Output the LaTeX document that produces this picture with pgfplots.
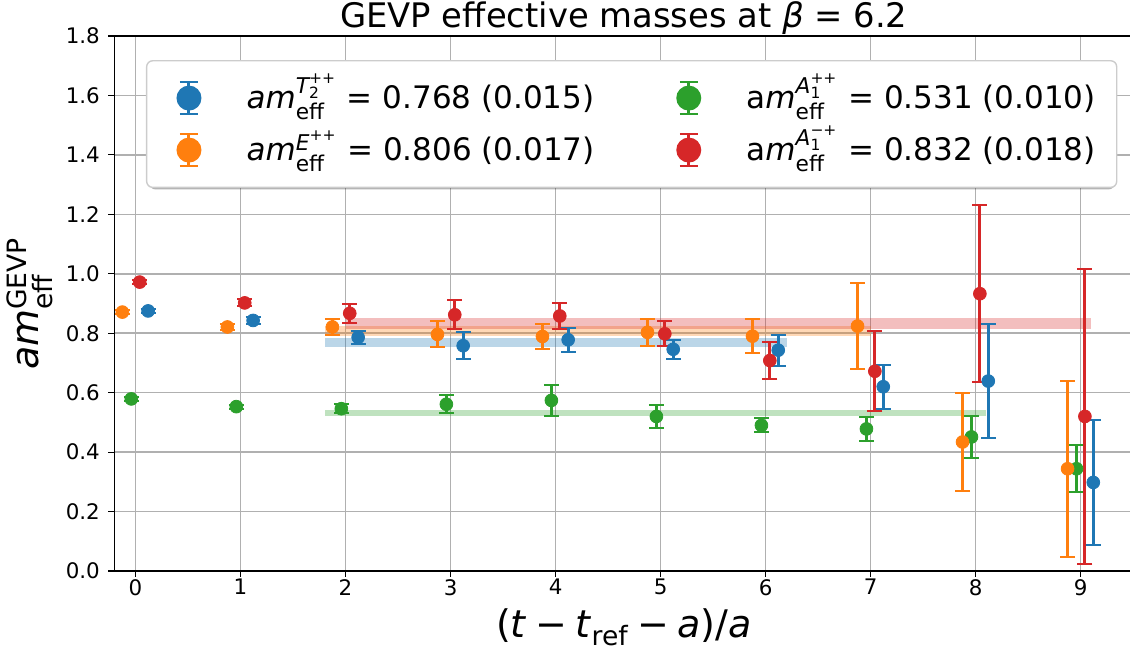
\documentclass[border=0pt]{standalone}
\usepackage{fontspec}
\setmainfont{DejaVu Sans}
\usepackage{amsmath}
\usepackage{pgfplots}
\usepackage{pgfplotstable}
\pgfplotsset{compat=1.18}

\definecolor{c0}{HTML}{1F77B4}
\definecolor{c1}{HTML}{FF7F0E}
\definecolor{c2}{HTML}{2CA02C}
\definecolor{c3}{HTML}{D62728}
\definecolor{gridc}{HTML}{B0B0B0}
\definecolor{legc}{HTML}{CCCCCC}

% columns: x (t plus offset), effective mass, error
\pgfplotstableread{
x y e
0.12 0.875 0.008
1.12 0.843 0.012
2.12 0.786 0.022
3.12 0.758 0.045
4.12 0.778 0.040
5.12 0.746 0.032
6.12 0.743 0.052
7.12 0.620 0.074
8.12 0.639 0.192
9.12 0.298 0.209
}\tbluedata

\pgfplotstableread{
x y e
-0.125 0.871 0.007
0.875 0.821 0.009
1.875 0.821 0.026
2.875 0.796 0.044
3.875 0.789 0.041
4.875 0.803 0.046
5.875 0.790 0.058
6.875 0.824 0.144
7.875 0.434 0.165
8.875 0.344 0.296
}\eorangedata

\pgfplotstableread{
x y e
-0.04 0.579 0.007
0.96 0.553 0.007
1.96 0.546 0.016
2.96 0.561 0.031
3.96 0.574 0.052
4.96 0.520 0.038
5.96 0.490 0.024
6.96 0.478 0.040
7.96 0.451 0.071
8.96 0.344 0.079
}\agreendata

\pgfplotstableread{
x y e
0.04 0.972 0.008
1.04 0.902 0.012
2.04 0.867 0.031
3.04 0.862 0.049
4.04 0.858 0.044
5.04 0.798 0.042
6.04 0.708 0.063
7.04 0.672 0.135
8.04 0.933 0.298
9.04 0.520 0.496
}\aredddata

\pgfplotsset{
  ebar/.style={only marks, mark=*, mark size=3.2pt, mark options={draw=none, fill=#1}, color=#1,
    error bars/.cd, y dir=both, y explicit,
    error bar style={line width=1.5pt, color=#1},
    error mark options={rotate=90, mark size=3.75pt, line width=1pt, color=#1}},
  legimg/.style={legend image code/.code={
    \draw[#1, fill=none, line width=1.5pt] (0pt,-8pt) -- (0pt,8pt);
    \draw[#1, fill=none, line width=1pt] (-4.5pt,-8pt) -- (4.5pt,-8pt) (-4.5pt,8pt) -- (4.5pt,8pt);
    \fill[#1, draw=none] (0pt,0pt) circle (6.25pt);
    \path[draw=none, fill=none] (-10.65pt,-13pt) rectangle (28.85pt,13pt);
  }},
  band/.style={fill=#1, fill opacity=0.3, draw=none, forget plot},
}

\begin{document}
\begin{tikzpicture}
\begin{axis}[
  at={(0,0)}, anchor=south west,
  scale only axis, width=509.35pt, height=267.5pt,
  xmin=-0.2, xmax=9.5, ymin=0, ymax=1.8,
  xtick={0,1,2,3,4,5,6,7,8,9},
  ytick={0,0.2,0.4,0.6,0.8,1.0,1.2,1.4,1.6,1.8},
  tick pos=left, tick align=outside,
  major tick length=3pt,
  tick style={black, line width=0.6pt},
  axis line style={black, line width=0.6pt},
  grid=major,
  major grid style={color=gridc, line width=0.75pt},
  ticklabel style={font=\fontsize{10.7}{12}\selectfont},
  /pgf/number format/assume math mode=true,
  xticklabel style={inner sep=0pt, yshift=-1pt},
  yticklabel style={inner sep=0pt, xshift=-4.15pt, /pgf/number format/.cd, fixed, fixed zerofill, precision=1},
  every axis title/.style={at={(axis description cs:0.5,1)}, anchor=base, yshift=4.35pt,
    inner sep=0pt, font=\fontsize{16.9}{19}\selectfont},
  title={GEVP effective masses at \textit{β} = 6.2},
  every axis x label/.style={at={(axis description cs:0.5,0)}, anchor=north, yshift=-18.5pt,
    inner sep=0pt, font=\fontsize{19}{22}\selectfont},
  xlabel={(\textit{t}\hspace{0.22em}−\hspace{0.22em}\textit{t}$_{\text{ref}}$\hspace{0.22em}−\hspace{0.22em}\textit{a})/\textit{a}},
  every axis y label/.style={at={(axis description cs:-0.0604,0.5)}, anchor=south, rotate=90,
    inner sep=0pt, font=\fontsize{19}{22}\selectfont},
  ylabel={$\textit{am}^{\text{GEVP}}_{\text{eff}}$},
  legend columns=2,
  legend cell align=left,
  legend style={at={(axis description cs:0.0309,0.955)}, anchor=north west,
    draw=legc, line width=0.7pt, fill=white, rounded corners=3pt,
    inner xsep=10.5pt, inner ysep=5.65pt, row sep=0pt,
    font=\fontsize{15.5}{18}\selectfont,
    nodes={inner sep=0pt, text height=18.2pt, text depth=7.8pt},
    /tikz/every even column/.append style={column sep=36.35pt}},
]

% fitted plateau bands (value +- error)
\addplot[band=c0] coordinates {(1.8,0.753) (6.2,0.753) (6.2,0.783) (1.8,0.783)} -- cycle;
\addplot[band=c1] coordinates {(1.8,0.789) (7.0,0.789) (7.0,0.823) (1.8,0.823)} -- cycle;
\addplot[band=c2] coordinates {(1.8,0.521) (8.1,0.521) (8.1,0.541) (1.8,0.541)} -- cycle;
\addplot[band=c3] coordinates {(2.0,0.814) (9.1,0.814) (9.1,0.850) (2.0,0.850)} -- cycle;

\addplot[legimg=c0, ebar=c0] table[x=x, y=y, y error=e] {\tbluedata};
\addlegendentry{\textit{am}$^{\textit{T}_{\text{2}}^{\text{++}}}_{\text{eff}}$ = 0.768 (0.015)}
\addplot[legimg=c2, ebar=c2] table[x=x, y=y, y error=e] {\agreendata};
\addlegendentry{a\textit{m}$^{\textit{A}_{\text{1}}^{\text{++}}}_{\text{eff}}$ = 0.531 (0.010)}
\addplot[legimg=c1, ebar=c1] table[x=x, y=y, y error=e] {\eorangedata};
\addlegendentry{\textit{am}$^{\textit{E}^{\text{++}}}_{\text{eff}}$ = 0.806 (0.017)}
\addplot[legimg=c3, ebar=c3] table[x=x, y=y, y error=e] {\aredddata};
\addlegendentry{a\textit{m}$^{\textit{A}_{\text{1}}^{\text{−+}}}_{\text{eff}}$ = 0.832 (0.018)}

% legend shadow, drawn under the legend box
\fill[black, opacity=0.3, rounded corners=3pt]
  (rel axis cs:0.03426,0.71327) rectangle (rel axis cs:0.98183,0.95065);
\end{axis}
\pgfresetboundingbox
\path (-57.25pt,-40.5pt) rectangle (507.75pt,285.5pt);
\end{tikzpicture}
\end{document}
